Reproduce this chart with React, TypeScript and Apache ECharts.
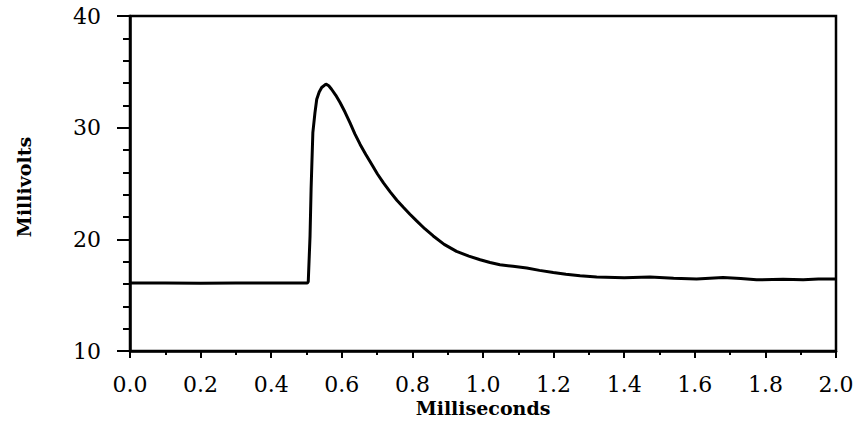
import React, { useEffect, useRef } from "react";
import * as echarts from "echarts";

const timeMs: number[] = [
  0, 0.1, 0.2, 0.3, 0.4, 0.502, 0.505, 0.51, 0.513, 0.515, 0.518, 0.524, 0.529,
  0.536, 0.543, 0.555, 0.563, 0.571, 0.583, 0.595, 0.609, 0.623, 0.637, 0.652,
  0.668, 0.685, 0.701, 0.718, 0.737, 0.756, 0.775, 0.793, 0.812, 0.835, 0.859,
  0.89, 0.925, 0.96, 0.992, 1.02, 1.048, 1.085, 1.124, 1.16, 1.199, 1.235,
  1.275, 1.322, 1.4, 1.473, 1.54, 1.605, 1.68, 1.73, 1.775, 1.85, 1.907, 1.95,
  2.0,
];
const millivolts: number[] = [
  16.08, 16.1, 16.06, 16.1, 16.08, 16.08, 16.22, 20.27, 24.46, 26.55, 29.55,
  31.35, 32.55, 33.2, 33.6, 33.9, 33.75, 33.44, 32.9, 32.25, 31.4, 30.45,
  29.45, 28.5, 27.6, 26.7, 25.85, 25.05, 24.25, 23.5, 22.85, 22.25, 21.65,
  20.95, 20.3, 19.55, 18.92, 18.5, 18.17, 17.92, 17.72, 17.58, 17.43, 17.22,
  17.03, 16.88, 16.74, 16.62, 16.55, 16.62, 16.52, 16.44, 16.58, 16.5, 16.38,
  16.42, 16.38, 16.44, 16.44,
];
const xTitle = "Milliseconds";
const yTitle = "Millivolts";

export default function App() {
  const ref = useRef<HTMLDivElement>(null);
  useEffect(() => {
    if (!ref.current) return;
    const chart = echarts.init(ref.current, undefined, { renderer: "svg" });
    const labelFont = {
      fontFamily: "DejaVu Serif",
      fontSize: 22,
      color: "#000",
    };
    chart.setOption({
      animation: false,
      backgroundColor: "#fff",
      grid: {
        left: 130,
        right: 23,
        top: 16,
        bottom: 74,
        show: true,
        borderColor: "#000",
        borderWidth: 2.5,
      },
      xAxis: {
        type: "value",
        min: 0,
        max: 2,
        interval: 0.2,
        axisLine: { show: true, lineStyle: { color: "#000", width: 2.5 } },
        axisTick: { show: true, inside: false, length: 7, lineStyle: { color: "#000", width: 2 } },
        minorTick: { show: true, splitNumber: 2, length: 4, lineStyle: { color: "#000", width: 2 } },
        splitLine: { show: false },
        axisLabel: {
          ...labelFont,
          margin: 22,
          formatter: (v: number) => v.toFixed(1),
        },
      },
      yAxis: {
        type: "value",
        min: 10,
        max: 40,
        interval: 10,
        axisLine: { show: true, lineStyle: { color: "#000", width: 2.5 } },
        axisTick: { show: true, inside: false, length: 13, lineStyle: { color: "#000", width: 2 } },
        minorTick: { show: true, splitNumber: 5, length: 7, lineStyle: { color: "#000", width: 2 } },
        splitLine: { show: false },
        axisLabel: { ...labelFont, margin: 29 },
      },
      graphic: [
        {
          type: "text",
          x: 483,
          y: 408,
          style: {
            text: xTitle,
            fontFamily: "DejaVu Serif",
            fontWeight: "bold",
            fontSize: 19,
            fill: "#000",
            align: "center",
            verticalAlign: "middle",
          },
        },
        {
          type: "text",
          x: 24,
          y: 187,
          rotation: Math.PI / 2,
          style: {
            text: yTitle,
            fontFamily: "DejaVu Serif",
            fontWeight: "bold",
            fontSize: 19,
            fill: "#000",
            align: "center",
            verticalAlign: "middle",
          },
        },
      ],
      series: [
        {
          type: "line",
          data: timeMs.map((t, i) => [t, millivolts[i]]),
          showSymbol: false,
          symbol: "none",
          lineStyle: { color: "#000", width: 3 },
        },
      ],
    });
    return () => chart.dispose();
  }, []);
  return (
    <div
      ref={ref}
      style={{ position: "fixed", left: 0, top: 0, width: 859, height: 425 }}
    />
  );
}
